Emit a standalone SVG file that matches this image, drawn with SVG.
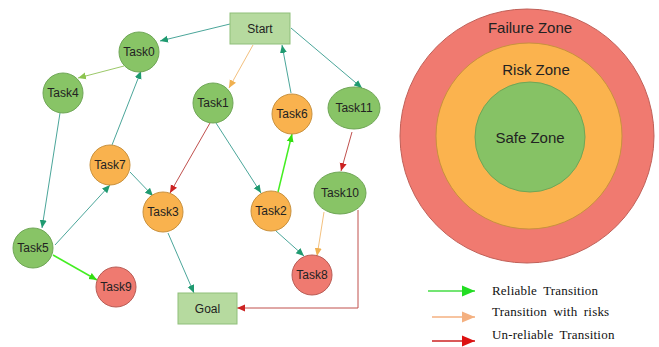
<svg xmlns="http://www.w3.org/2000/svg" width="659" height="347" viewBox="0 0 659 347">
<style>
.g{fill:#88c466;stroke:#6fa656;stroke-width:1}
.o{fill:#f9b24e;stroke:#c8913e;stroke-width:1}
.r{fill:#ef7a70;stroke:#b85c55;stroke-width:1}
.b{fill:#b6da9f;stroke:#8fbf7a;stroke-width:1}
.t{font-family:"Liberation Sans",Arial,sans-serif;font-size:12px;fill:#222;text-anchor:middle;dominant-baseline:central}
.z{font-family:"Liberation Sans",Arial,sans-serif;font-size:15px;fill:#222;text-anchor:middle;dominant-baseline:central}
.lg{font-family:"Liberation Serif","Times New Roman",serif;font-size:13px;fill:#111;letter-spacing:0.2px;word-spacing:3px}
.e{fill:none;stroke-width:1}
.teal{stroke:#4ba69a;marker-end:url(#mTeal)}
.lgr{stroke:#9cc96a;marker-end:url(#mLg)}
.bgr{stroke:#44ee22;stroke-width:1.5;marker-end:url(#mBg)}
.org{stroke:#f3c07e;marker-end:url(#mOr)}
.red{stroke:#c0504d;marker-end:url(#mRed)}
</style>
<defs>
<marker id="mTeal" markerUnits="userSpaceOnUse" markerWidth="10" markerHeight="8" refX="8" refY="4" orient="auto"><path d="M0,0.5 L8,4 L0,7.5 Z" fill="#1f9a70"/></marker>
<marker id="mLg" markerUnits="userSpaceOnUse" markerWidth="10" markerHeight="8" refX="8" refY="4" orient="auto"><path d="M0,0.5 L8,4 L0,7.5 Z" fill="#8cc450"/></marker>
<marker id="mBg" markerUnits="userSpaceOnUse" markerWidth="10" markerHeight="8" refX="8" refY="4" orient="auto"><path d="M0,0.5 L8,4 L0,7.5 Z" fill="#33dd11"/></marker>
<marker id="mOr" markerUnits="userSpaceOnUse" markerWidth="10" markerHeight="8" refX="8" refY="4" orient="auto"><path d="M0,0.5 L8,4 L0,7.5 Z" fill="#f0b050"/></marker>
<marker id="mRed" markerUnits="userSpaceOnUse" markerWidth="10" markerHeight="8" refX="8" refY="4" orient="auto"><path d="M0,0.5 L8,4 L0,7.5 Z" fill="#cc2222"/></marker>
<marker id="lBg" markerUnits="userSpaceOnUse" markerWidth="14" markerHeight="12" refX="13" refY="6" orient="auto"><path d="M0,0.5 L13,6 L0,11.5 Z" fill="#22dd22"/></marker>
<marker id="lOr" markerUnits="userSpaceOnUse" markerWidth="14" markerHeight="12" refX="13" refY="6" orient="auto"><path d="M0,0.5 L13,6 L0,11.5 Z" fill="#f4b080"/></marker>
<marker id="lRed" markerUnits="userSpaceOnUse" markerWidth="14" markerHeight="12" refX="13" refY="6" orient="auto"><path d="M0,0.5 L13,6 L0,11.5 Z" fill="#dd1111"/></marker>
</defs>

<g id="zones">
<circle cx="527" cy="136" r="127" fill="#f07a70" stroke="#c06058" stroke-width="1"/>
<circle cx="529" cy="136" r="93" fill="#fbb34e" stroke="#c8913e" stroke-width="1"/>
<circle cx="530" cy="137" r="55" fill="#86c265" stroke="#6fa656" stroke-width="1"/>
<text class="z" x="530" y="27">Failure Zone</text>
<text class="z" x="536" y="69">Risk Zone</text>
<text class="z" x="530" y="137">Safe Zone</text>
</g>

<g id="connectors">
<line class="e teal" x1="230" y1="24" x2="160" y2="41"/>
<line class="e lgr" x1="124" y1="66" x2="78" y2="78"/>
<line class="e teal" x1="60" y1="113" x2="42" y2="228"/>
<line class="e teal" x1="55" y1="245" x2="110" y2="185"/>
<line class="e teal" x1="112" y1="145" x2="141" y2="71"/>
<line class="e teal" x1="130" y1="172" x2="153" y2="196"/>
<line class="e red" x1="210" y1="123" x2="170" y2="193"/>
<line class="e teal" x1="216" y1="123" x2="261" y2="193"/>
<line class="e bgr" x1="278" y1="192" x2="292" y2="134"/>
<line class="e teal" x1="291" y1="93" x2="282" y2="45"/>
<line class="e org" x1="253" y1="45" x2="229" y2="88"/>
<line class="e teal" x1="291" y1="28" x2="362" y2="88"/>
<line class="e red" x1="352" y1="132" x2="341" y2="171"/>
<line class="e org" x1="324" y1="212" x2="317" y2="256"/>
<line class="e teal" x1="276" y1="231" x2="304" y2="256"/>
<polyline class="e red" points="358,210 358,308 237,308"/>
<line class="e teal" x1="168" y1="233" x2="194" y2="293"/>
<line class="e bgr" x1="53" y1="255" x2="97" y2="280"/>
</g>

<g id="Start"><rect class="b" x="230" y="13" width="60" height="31"/><text class="t" x="260" y="28.5">Start</text></g>
<g id="Goal"><rect class="b" x="178" y="293" width="59" height="31"/><text class="t" x="207.5" y="308.5">Goal</text></g>
<g id="Task0"><circle class="g" cx="139" cy="52" r="20"/><text class="t" x="139" y="52">Task0</text></g>
<g id="Task4"><circle class="g" cx="63" cy="93" r="20"/><text class="t" x="63" y="93">Task4</text></g>
<g id="Task7"><circle class="o" cx="110" cy="165" r="20"/><text class="t" x="110" y="165">Task7</text></g>
<g id="Task1"><circle class="g" cx="213" cy="103" r="20"/><text class="t" x="213" y="103">Task1</text></g>
<g id="Task6"><circle class="o" cx="292" cy="114" r="20"/><text class="t" x="292" y="114">Task6</text></g>
<g id="Task11"><ellipse class="g" cx="354" cy="108" rx="26" ry="21"/><text class="t" x="354" y="108">Task11</text></g>
<g id="Task3"><circle class="o" cx="163" cy="212" r="20"/><text class="t" x="163" y="212">Task3</text></g>
<g id="Task5"><circle class="g" cx="33" cy="248" r="20"/><text class="t" x="33" y="248">Task5</text></g>
<g id="Task9"><circle class="r" cx="116" cy="287" r="20"/><text class="t" x="116" y="287">Task9</text></g>
<g id="Task2"><circle class="o" cx="271" cy="211" r="20"/><text class="t" x="271" y="211">Task2</text></g>
<g id="Task10"><ellipse class="g" cx="340" cy="193" rx="26" ry="21"/><text class="t" x="340" y="193">Task10</text></g>
<g id="Task8"><circle class="r" cx="312" cy="275" r="20"/><text class="t" x="312" y="275">Task8</text></g>

<g id="legend">
<line x1="428" y1="291" x2="475" y2="291" stroke="#44dd44" stroke-width="1.5" marker-end="url(#lBg)"/>
<text class="lg" x="492" y="295">Reliable Transition</text>
<line x1="432" y1="317" x2="475" y2="317" stroke="#f4b080" stroke-width="1.5" marker-end="url(#lOr)"/>
<text class="lg" x="492" y="316">Transition with risks</text>
<line x1="432" y1="341" x2="475" y2="341" stroke="#cc2222" stroke-width="1.5" marker-end="url(#lRed)"/>
<text class="lg" x="492" y="339">Un-reliable Transition</text>
</g>
</svg>
